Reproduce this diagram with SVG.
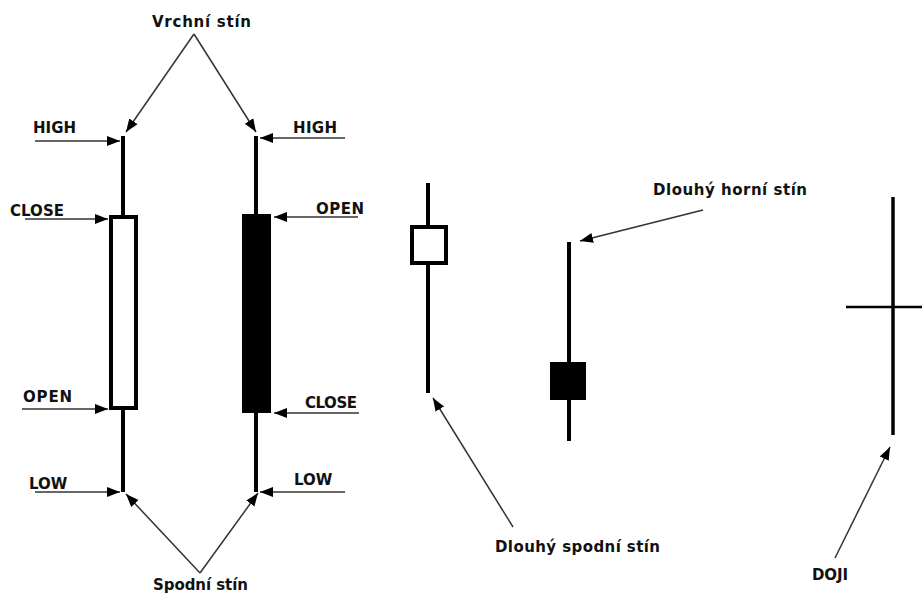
<svg xmlns="http://www.w3.org/2000/svg" width="922" height="594" viewBox="0 0 922 594">
  <style>
    .lbl { font-family: "DejaVu Sans", "Open Sans", sans-serif; font-weight: bold; font-size: 15px; fill: #111; }
    .wick { stroke: #000; stroke-width: 4; fill: none; }
    .body-up { fill: #fff; stroke: #000; stroke-width: 4; }
    .body-down { fill: #000; stroke: none; }
    .ptr { stroke: #333; stroke-width: 1.5; fill: none; marker-end: url(#head); }
  </style>
  <defs>
    <marker id="head" markerUnits="userSpaceOnUse" markerWidth="14" markerHeight="12" refX="13" refY="6" orient="auto">
      <path d="M0,1 L13,6 L0,11 Z" fill="#000"/>
    </marker>
  </defs>
  <rect width="922" height="594" fill="#fff"/>

  <!-- bullish candle -->
  <g id="candle-white">
    <line class="wick" x1="123" y1="136" x2="123" y2="217"/>
    <line class="wick" x1="123" y1="408" x2="123" y2="492"/>
    <rect class="body-up" x="111" y="217" width="25" height="191"/>
  </g>

  <!-- bearish candle -->
  <g id="candle-black">
    <line class="wick" x1="256" y1="136" x2="256" y2="492"/>
    <rect class="body-down" x="242" y="214" width="29" height="199"/>
  </g>

  <!-- long lower shadow -->
  <g id="candle-long-lower">
    <line class="wick" x1="428" y1="183" x2="428" y2="393"/>
    <rect class="body-up" x="412" y="227" width="34" height="36"/>
  </g>

  <!-- long upper shadow -->
  <g id="candle-long-upper">
    <line class="wick" x1="569" y1="242" x2="569" y2="441"/>
    <rect class="body-down" x="550" y="362" width="36" height="38"/>
  </g>

  <!-- doji -->
  <g id="candle-doji">
    <line x1="893" y1="197" x2="893" y2="435" stroke="#000" stroke-width="3.5"/>
    <line x1="846" y1="307" x2="922" y2="307" stroke="#000" stroke-width="2.5"/>
  </g>

  <!-- labels -->
  <g id="labels">
    <text class="lbl" x="152" y="27" textLength="99" lengthAdjust="spacing">Vrchní stín</text>
    <text class="lbl" x="153" y="590" textLength="95" lengthAdjust="spacing">Spodní stín</text>
    <text class="lbl" x="33" y="133" textLength="43" lengthAdjust="spacing">HIGH</text>
    <text class="lbl" x="293" y="133" textLength="44" lengthAdjust="spacing">HIGH</text>
    <text class="lbl" x="10" y="216" textLength="54" lengthAdjust="spacing">CLOSE</text>
    <text class="lbl" x="316" y="214" textLength="48" lengthAdjust="spacing">OPEN</text>
    <text class="lbl" x="23" y="402" textLength="49" lengthAdjust="spacing">OPEN</text>
    <text class="lbl" x="305" y="408" textLength="52" lengthAdjust="spacing">CLOSE</text>
    <text class="lbl" x="29" y="489">LOW</text>
    <text class="lbl" x="294" y="485">LOW</text>
    <text class="lbl" x="653" y="195" textLength="154" lengthAdjust="spacing">Dlouhý horní stín</text>
    <text class="lbl" x="495" y="552" textLength="165" lengthAdjust="spacing">Dlouhý spodní stín</text>
    <text class="lbl" x="812" y="580" textLength="36" lengthAdjust="spacing">DOJI</text>
  </g>

  <!-- connectors -->
  <g id="connectors">
    <line class="ptr" x1="194" y1="34" x2="126" y2="132"/>
    <line class="ptr" x1="194" y1="34" x2="256" y2="132"/>
    <line class="ptr" x1="200" y1="573" x2="126" y2="494"/>
    <line class="ptr" x1="200" y1="573" x2="258" y2="493"/>
    <line class="ptr" x1="35" y1="141" x2="120" y2="141"/>
    <line class="ptr" x1="345" y1="138" x2="260" y2="138"/>
    <line class="ptr" x1="25" y1="219" x2="108" y2="219"/>
    <line class="ptr" x1="358" y1="217" x2="274" y2="217"/>
    <line class="ptr" x1="22" y1="409" x2="108" y2="409"/>
    <line class="ptr" x1="359" y1="413" x2="274" y2="413"/>
    <line class="ptr" x1="35" y1="492" x2="120" y2="492"/>
    <line class="ptr" x1="345" y1="492" x2="260" y2="492"/>
    <line class="ptr" x1="703" y1="210" x2="580" y2="241"/>
    <line class="ptr" x1="513" y1="527" x2="433" y2="398"/>
    <line class="ptr" x1="835" y1="558" x2="890" y2="447"/>
  </g>
</svg>
